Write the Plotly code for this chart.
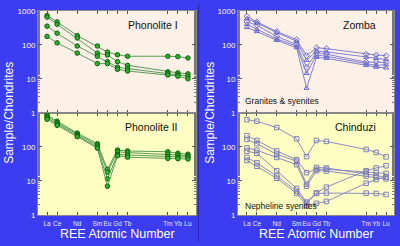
import plotly.graph_objects as go

# ---------------- data ----------------
elements = ["La", "Ce", "Nd", "Sm", "Eu", "Gd", "Tb", "Tm", "Yb", "Lu"]
atomic_numbers = [57, 58, 60, 62, 63, 64, 65, 69, 70, 71]

phonolite_1 = [
    [720, 470, 187, 92, 61, 51, 46, 46, 45, 41],
    [650, 400, 158, 57, 50, 32, 25, 16, 15, 14],
    [353, 219, 92, 46, 32, 22, 20, 14.5, 13, 12],
    [176, 114, 57, 28, 28, 19, 17, 13, 12, 10],
]
phonolite_2 = [
    [880, 570, 255, 124, 22, 81, 76, 72, 65, 61],
    [800, 520, 235, 112, 18, 72, 68, 62, 58, 55],
    [720, 470, 215, 100, 11.5, 60, 58, 52, 50, 50],
    [650, 430, 200, 92, 7, 55, 50, 46, 45, 44],
]
zomba = [
    [680, 470, 245, 142, 48, 82, 77, 53, 50, 48],
    [580, 440, 228, 127, 35, 66, 62, 43, 40, 37],
    [470, 375, 176, 102, 22, 59, 53, 31, 31, 30],
    [400, 285, 148, 92, 14.5, 50, 46, 28, 25, 26],
    [325, 245, 135, 82, 5.3, 43, 40, 25, 22, 21],
]
chinduzi = [
    [630, 570, 370, 172, 52, 155, 145, 84, 69, 51],
    [214, 155, 76, 42, 17.5, 22, 22, 19, 17.5, 16.5],
    [165, 124, 61, 38, 8, 25, 24, 16, 14, 13],
    [93, 80, 49, 30, 7, 20, 19.5, 14, 13, 11.5],
    [75, 65, 20, 6, 2.4, 4.5, 6.6, 20, 24, 28],
    [49, 34, 14, 5, 2.2, 4.3, 4.4, 4.4, 4.3, 4.0],
    [40, 27, 12, 4.3, 1.9, 2.2, 2.5, 8.6, 11, 13],
]
y_ticks = [1, 10, 100, 1000]
panel_labels = ["Phonolite I", "Phonolite II", "Zomba", "Chinduzi"]
group_labels = ["Granites & syenites", "Nepheline syenites"]

# ---------------- styling ----------------
BG = "#3c3cf0"
PINK = "#fdf0e7"
YELLOW = "#fefec2"
FONT = "Liberation Sans, Arial, sans-serif"

fig = go.Figure()

def add_series(data, idx, line_color, marker):
    for s in data:
        fig.add_trace(go.Scatter(
            x=atomic_numbers, y=s, mode="lines+markers",
            line=dict(color=line_color, width=1),
            marker=marker,
            xaxis="x" if idx == 1 else f"x{idx}",
            yaxis="y" if idx == 1 else f"y{idx}",
            showlegend=False, hoverinfo="skip"))

green_marker = dict(symbol="circle", size=4.5, color="#2fb02f",
                    line=dict(color="#0a600a", width=1))
add_series(phonolite_1, 1, "#5a9a5a", green_marker)
add_series(phonolite_2, 2, "#5a9a5a", green_marker)

zsyms = ["diamond-open", "triangle-up-open", "diamond-open", "triangle-up-open", "triangle-up-open"]
for k, s in enumerate(zomba):
    fig.add_trace(go.Scatter(
        x=atomic_numbers, y=s, mode="lines+markers",
        line=dict(color="#8080d0", width=1),
        marker=dict(symbol=zsyms[k], size=4.5, color="#6a6ad0", line=dict(width=1)),
        xaxis="x3", yaxis="y3", showlegend=False, hoverinfo="skip"))

add_series(chinduzi, 4, "#8c8cc0",
           dict(symbol="square-open", size=4.5, color="#8080b8", line=dict(width=1)))

# ---------------- axes ----------------
xl = [38 / 400, 196 / 400]
xr = [238 / 400, 394 / 400]
yt = [(246 - 113) / 246, (246 - 7) / 246]
yb = [(246 - 219) / 246, (246 - 113) / 246]

def xaxis(domain, anchor, labels):
    return dict(domain=domain, anchor=anchor, range=[56.1, 71.8],
                tickvals=atomic_numbers, ticktext=elements, tickangle=0,
                showticklabels=labels, ticks="inside", ticklen=3, ticklabelstandoff=2,
                tickcolor="#555555", mirror="ticks", showline=True,
                linecolor="#888888", linewidth=1, showgrid=False, zeroline=False,
                tickfont=dict(family=FONT, size=6.5, color="#e8e8ff"))

def yaxis(domain, anchor, top):
    return dict(domain=domain, anchor=anchor, type="log", range=[0, 3],
                tickvals=y_ticks,
                ticktext=["1", "10", "100", "1000"] if top else ["1", "10", "100", ""],
                ticks="inside", ticklen=4, tickcolor="#555555", mirror="ticks",
                showline=True, linecolor="#888888", linewidth=1,
                showgrid=False, zeroline=False,
                minor=dict(ticks="inside", ticklen=2, tickcolor="#777777", showgrid=False),
                tickfont=dict(family=FONT, size=8, color="white"))

fig.update_layout(
    width=400, height=246, margin=dict(l=0, r=0, t=0, b=0),
    paper_bgcolor=BG, plot_bgcolor=PINK,
    xaxis=xaxis(xl, "y", False), yaxis=yaxis(yt, "x", True),
    xaxis2=xaxis(xl, "y2", True), yaxis2=yaxis(yb, "x2", False),
    xaxis3=xaxis(xr, "y3", False), yaxis3=yaxis(yt, "x3", True),
    xaxis4=xaxis(xr, "y4", True), yaxis4=yaxis(yb, "x4", False),
)

# panel backgrounds
for xr_, yr_, c in [("x", "y", PINK), ("x2", "y2", YELLOW), ("x3", "y3", PINK), ("x4", "y4", YELLOW)]:
    fig.add_shape(type="rect", xref=f"{xr_} domain", yref=f"{yr_} domain",
                  x0=0, x1=1, y0=0, y1=1, fillcolor=c, line_width=0, layer="below")

# divider
fig.add_shape(type="line", xref="paper", yref="paper", x0=198.5 / 400, x1=198.5 / 400,
              y0=0, y1=1, line=dict(color="#2a2ab0", width=1))

# annotations
ann = []
for (xa, ya, t) in [("x", "y", panel_labels[0]), ("x2", "y2", panel_labels[1]),
                    ("x3", "y3", panel_labels[2]), ("x4", "y4", panel_labels[3])]:
    ann.append(dict(xref=f"{xa} domain", yref=f"{ya} domain", x=0.9, y=0.86,
                    text=t, showarrow=False, xanchor="right", yanchor="middle",
                    font=dict(family=FONT, size=10.5, color="#111111")))
ann.append(dict(xref="x3 domain", yref="y3 domain", x=0.03, y=0.12, text=group_labels[0],
                showarrow=False, xanchor="left", yanchor="middle",
                font=dict(family=FONT, size=8.5, color="#111111")))
ann.append(dict(xref="x4 domain", yref="y4 domain", x=0.03, y=0.09, text=group_labels[1],
                showarrow=False, xanchor="left", yanchor="middle",
                font=dict(family=FONT, size=8.5, color="#111111")))
for cx in [117, 316]:
    ann.append(dict(xref="paper", yref="paper", x=cx / 400, y=(246 - 238.5) / 246,
                    text="REE Atomic Number", showarrow=False,
                    xanchor="center", yanchor="middle",
                    font=dict(family=FONT, size=12.5, color="white")))
for cx in [9, 210]:
    ann.append(dict(xref="paper", yref="paper", x=cx / 400, y=(246 - 113) / 246,
                    text="Sample/Chondrites", showarrow=False, textangle=-90,
                    xanchor="center", yanchor="middle",
                    font=dict(family=FONT, size=12, color="white")))
fig.update_layout(annotations=ann)

fig.write_html("out.html")
